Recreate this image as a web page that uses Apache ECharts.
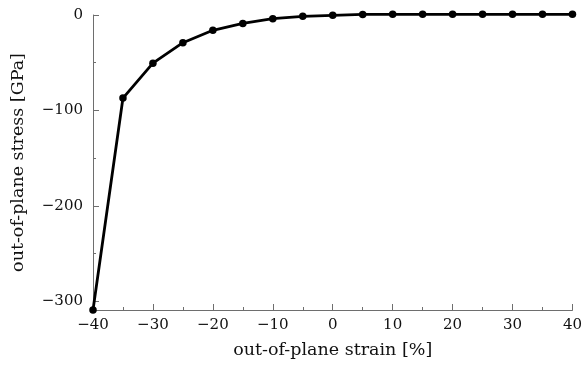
<!DOCTYPE html>
<html><head><meta charset="utf-8">
<script src="https://cdn.jsdelivr.net/npm/echarts@6/dist/echarts.min.js"></script>
<style>html,body{margin:0;padding:0;background:#fff}#c{width:585px;height:371px}</style>
</head><body><div id="c"></div>
<script>
const strain = [-40,-35,-30,-25,-20,-15,-10,-5,0,5,10,15,20,25,30,35,40];
const stress = [-309,-87,-50.5,-29,-16,-8.8,-3.9,-1.4,-0.3,0.6,0.7,0.7,0.7,0.7,0.7,0.7,0.7];
const xName = 'out-of-plane strain [%]';
const yName = 'out-of-plane stress [GPa]';
const yMin = -309, yMax = 0, yTickMin = -300;
const fmt = v => (v < 0 ? '\u2212' + Math.abs(v) : String(v));
const font = 'DejaVu Serif';
const gTop = 15, gBottom = 61, gH = 371 - gTop - gBottom;
const tickH = gH * (yMax - yTickMin) / (yMax - yMin);
const chart = echarts.init(document.getElementById('c'), null, {renderer:'canvas'});
chart.setOption({
  animation:false,
  grid:[{left:93,right:11,top:gTop,bottom:gBottom,containLabel:false},
        {left:93,right:11,top:gTop,height:tickH,containLabel:false}],
  xAxis:[{type:'value',gridIndex:0,min:-40,max:40,interval:10,
    name:xName,nameLocation:'middle',nameGap:31,
    nameTextStyle:{fontFamily:font,fontSize:17.5,color:'#111'},
    axisLine:{onZero:false,lineStyle:{color:'#6e6e6e',width:1}},
    axisTick:{inside:true,length:6,lineStyle:{color:'#6e6e6e'}},
    minorTick:{show:true,splitNumber:2,length:3,lineStyle:{color:'#6e6e6e'}},
    splitLine:{show:false},
    axisLabel:{fontFamily:font,fontSize:15,color:'#111',margin:8,formatter:fmt}},
   {type:'value',gridIndex:1,min:-40,max:40,show:false}],
  yAxis:[{type:'value',gridIndex:0,min:yMin,max:yMax,
    name:yName,nameLocation:'middle',nameGap:66,nameRotate:90,
    nameTextStyle:{fontFamily:font,fontSize:17.5,color:'#111'},
    axisLine:{show:true,onZero:false,lineStyle:{color:'#6e6e6e',width:1}},
    axisTick:{show:false},axisLabel:{show:false},splitLine:{show:false}},
   {type:'value',gridIndex:1,min:yTickMin,max:yMax,interval:100,
    axisLine:{show:false,onZero:false},
    axisTick:{show:true,inside:true,length:6,lineStyle:{color:'#6e6e6e',width:1}},
    minorTick:{show:true,splitNumber:2,length:3,lineStyle:{color:'#6e6e6e',width:1}},
    splitLine:{show:false},minorSplitLine:{show:false},
    axisLabel:{fontFamily:font,fontSize:15,color:'#111',margin:10,formatter:fmt}}],
  series:[{type:'line',xAxisIndex:0,yAxisIndex:0,data:strain.map((x,i)=>[x,stress[i]]),
    lineStyle:{color:'#000',width:2.8},itemStyle:{color:'#000'},
    symbol:'circle',symbolSize:7.5,clip:false}]
});
</script></body></html>
